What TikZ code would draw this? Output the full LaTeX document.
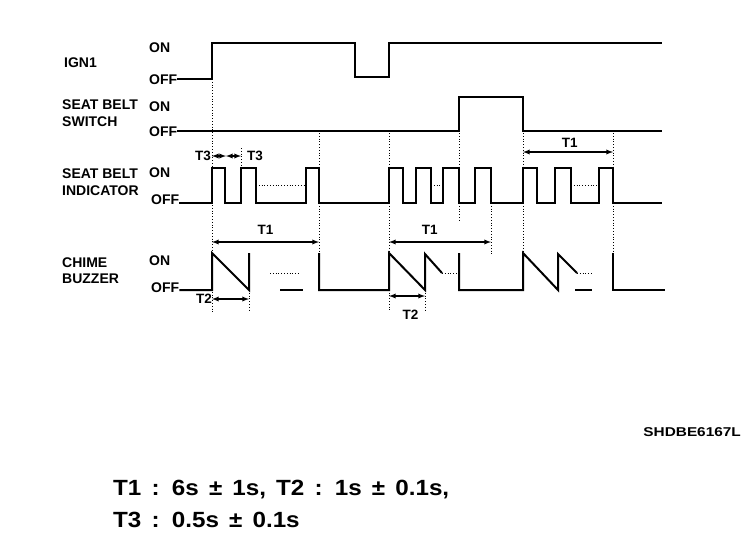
\documentclass[tikz,border=0pt]{standalone}
\usepackage{fontspec}
\setmainfont{Liberation Sans}
\newfontfamily\widefont[FakeStretch=1.2]{Liberation Sans}
\newfontfamily\tolfont[FakeStretch=1.1]{Liberation Sans}
\usetikzlibrary{arrows, positioning, calc}

\tikzset{
    sig/.style={line width=2pt, line join=miter},
    guide/.style={dotted, line width=0.8pt},
    dim/.style={line width=1.3pt, latex-latex},
    lbl/.style={anchor=west, inner sep=0pt, font=\bfseries\fontsize{14}{16}\selectfont},
    tlbl/.style={inner sep=0pt, font=\bfseries\fontsize{13.5}{15}\selectfont},
    tol/.style={anchor=west, inner sep=0pt, font=\tolfont\bfseries\fontsize{22}{26}\selectfont}
}

\begin{document}
\begin{tikzpicture}[x=1pt, y=-1pt]
    \useasboundingbox[fill=white] (0,0) rectangle (752,542);

    \node[lbl] (ign) at (64,63) {IGN1};
    \node[lbl] (ignon) at (149,48) {ON};
    \node[lbl] (ignoff) at (149,80) {OFF};
    \node[lbl] (sw1) at (62,105) {SEAT BELT};
    \node[lbl, below=6pt of sw1.south west, anchor=north west] (sw2) {SWITCH};
    \node[lbl] (swon) at (149,107) {ON};
    \node[lbl] (swoff) at (149,132) {OFF};
    \node[lbl] (ind1) at (62,174) {SEAT BELT};
    \node[lbl, below=6pt of ind1.south west, anchor=north west] (ind2) {INDICATOR};
    \node[lbl] (indon) at (149,173) {ON};
    \node[lbl] (indoff) at (151,200) {OFF};
    \node[lbl] (chm1) at (62,263) {CHIME};
    \node[lbl, below=6pt of chm1.south west, anchor=north west] (chm2) {BUZZER};
    \node[lbl] (chmon) at (149,261) {ON};
    \node[lbl] (chmoff) at (151,288) {OFF};

    \draw[sig] (ignoff.east |- 0,79) -- (212,79) -- (212,43) -- (355,43) -- (355,77) -- (389,77) -- (389,43) -- (662,43);
    \draw[sig] (swoff.east |- 0,131) -- (459,131) -- (459,97) -- (523,97) -- (523,131) -- (662,131);
    \draw[sig] (indoff.east |- 0,203) foreach \a/\b in {212/225,241/256,306/319,389/403,416/431,443/459,475/491,523/537,555/571,599/613} {
        -- (\a,203) -- (\a,168) -- (\b,168) -- (\b,203)} -- (662,203);
    \draw[guide] (256,185) -- (306,185);
    \draw[guide] (431,185) -- (443,185);
    \draw[guide] (571,185) -- (599,185);

    \draw[sig] (chmoff.east |- 0,290) -- (212,290) -- (212,253) -- (249,290) -- (249,253);
    \draw[guide] (270,273) -- (300,273);
    \draw[sig] (280,290) -- (303,290);
    \draw[sig] (319,253) -- (319,290) -- (389,290) -- (389,253) -- (425,290) -- (425,254) -- (442,273);
    \draw[guide] (442,273) -- (458,273);
    \draw[sig] (459,253) -- (459,290) -- (523,290) -- (523,253) -- (558,290) -- (558,254) -- (577,273);
    \draw[guide] (577,273) -- (593,273);
    \draw[sig] (575,290) -- (592,290);
    \draw[sig] (613,253) -- (613,290) -- (665,290);

    \foreach \x/\ya/\yb in {212/79/312, 249/290/310, 241/148/168, 319/133/256, 389/133/310, 425/290/310, 459/133/222, 491/203/256, 523/133/253, 613/133/253}
        \draw[guide] (\x,\ya) -- (\x,\yb);

    \coordinate (t3a) at (212,156);
    \coordinate (t3b) at (226,156);
    \coordinate (t3c) at (241,156);
    \draw[dim] (t3a) -- (t3b);
    \draw[dim] (t3b) -- (t3c);
    \node[tlbl, left=1pt of t3a] (t3l) {T3};
    \node[tlbl, right=6pt of t3c] (t3r) {T3};

    \coordinate (t1a) at (212,242);
    \coordinate (t1b) at (319,242);
    \draw[dim] (t1a) -- (t1b);
    \node[tlbl, above=7pt of $(t1a)!0.5!(t1b)$] (t1l) {T1};
    \coordinate (t1c) at (389,242);
    \coordinate (t1d) at (491,242);
    \draw[dim] (t1c) -- (t1d);
    \node[tlbl, above=7pt of $(t1c)!0.4!(t1d)$] (t1m) {T1};
    \coordinate (t1e) at (523,152);
    \coordinate (t1f) at (613,152);
    \draw[dim] (t1e) -- (t1f);
    \node[tlbl, above=4pt of $(t1e)!0.52!(t1f)$] (t1r) {T1};

    \coordinate (t2a) at (212,299);
    \coordinate (t2b) at (249,299);
    \draw[dim] (t2a) -- (t2b);
    \node[tlbl, left=0pt of t2a] (t2l) {T2};
    \coordinate (t2c) at (389,296);
    \coordinate (t2d) at (425,296);
    \draw[dim] (t2c) -- (t2d);
    \node[tlbl, below=14pt of $(t2c)!0.6!(t2d)$] (t2m) {T2};

    \node[anchor=east, inner sep=0pt, font=\widefont\bfseries\fontsize{12.8}{14}\selectfont] (code) at (741,432) {SHDBE6167L};
    \node[tol] (tol1) at (113,490) {\spaceskip=0.46em T1 : 6s ± 1s, T2 : 1s ± 0.1s,};
    \node[tol] (tol2) at (113,520) {\spaceskip=0.46em T3 : 0.5s ± 0.1s};
\end{tikzpicture}
\end{document}
